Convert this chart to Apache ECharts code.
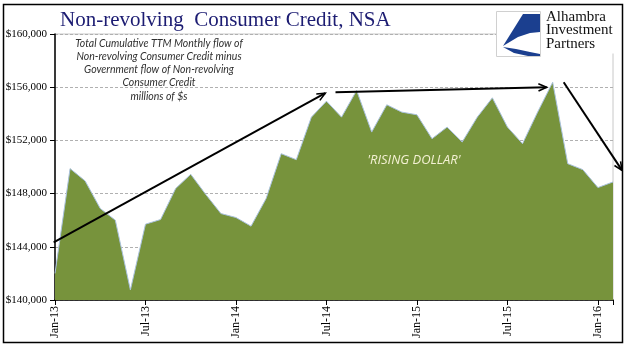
<!DOCTYPE html>
<html><head><meta charset="utf-8">
<script src="https://cdn.jsdelivr.net/npm/echarts@6/dist/echarts.min.js"></script>
<style>html,body{margin:0;padding:0;background:#fff}#c{width:641px;height:358px}</style>
</head><body><div id="c"></div>
<script>
// ---- data ----
var months = ['Jan-13','Feb-13','Mar-13','Apr-13','May-13','Jun-13','Jul-13','Aug-13','Sep-13','Oct-13','Nov-13','Dec-13',
  'Jan-14','Feb-14','Mar-14','Apr-14','May-14','Jun-14','Jul-14','Aug-14','Sep-14','Oct-14','Nov-14','Dec-14',
  'Jan-15','Feb-15','Mar-15','Apr-15','May-15','Jun-15','Jul-15','Aug-15','Sep-15','Oct-15','Nov-15','Dec-15',
  'Jan-16','Feb-16'];
var flowValues = [142000,149880,148950,146880,146000,140750,145700,146050,148380,149450,147930,146500,
  146200,145550,147630,151000,150550,153750,154950,153750,155750,152625,154675,154125,
  153925,152125,153000,151875,153750,155200,153000,151750,154125,156375,150250,149800,
  148450,148875];
var yTicks = [140000,144000,148000,152000,156000,160000];
var xTickLabels = ['Jan-13','Jul-13','Jan-14','Jul-14','Jan-15','Jul-15','Jan-16'];
// annotation arrows in data coordinates [monthIndex, value]
var arrowFrom = [[-0.09,144330],[18.6,155625],[33.73,156375]];
var arrowTo   = [[17.92,155550],[32.6,156000],[37.6,149750]];
var noteLines = ['Total Cumulative TTM Monthly flow of','Non-revolving Consumer Credit minus','Government flow of Non-revolving','Consumer Credit','millions of $s'];
var risingLabel = "'RISING DOLLAR'";
var risingPos = [23.8,150500];

// ---- chart ----
var chart = echarts.init(document.getElementById('c'), null, {renderer:'canvas'});
var seriesData = flowValues.map(function(v,i){return [i,v];});
var serif = '"Liberation Serif","Times New Roman",serif';
var option = {
  animation:false,
  backgroundColor:'#fff',
  grid:{left:55,right:28,top:34,bottom:58,show:true,borderColor:'#c8c8c8',borderWidth:1,backgroundColor:'transparent'},
  xAxis:{type:'value',min:0,max:months.length-1,interval:6,
    axisLine:{show:true,lineStyle:{color:'#000',width:1.5}},
    axisTick:{show:true,length:5,lineStyle:{color:'#000'}},
    splitLine:{show:false},
    axisLabel:{rotate:90,margin:6,fontFamily:serif,fontSize:12,color:'#000',
      formatter:function(v){var l=months[Math.round(v)];return xTickLabels.indexOf(l)>=0?l:'';}}
  },
  yAxis:{type:'value',min:yTicks[0],max:yTicks[yTicks.length-1],interval:4000,
    axisLine:{show:true,lineStyle:{color:'#000',width:1.5}},
    axisTick:{show:true,length:5,lineStyle:{color:'#000'}},
    splitLine:{show:true,lineStyle:{color:'#b0b0b0',type:[3,2],width:1}},
    axisLabel:{margin:8,fontFamily:serif,fontSize:11,color:'#000',
      formatter:function(v){return '$'+v.toLocaleString('en-US');}}
  },
  series:[{type:'line',data:seriesData,showSymbol:false,symbol:'none',
    lineStyle:{color:'#a9c1dc',width:1},
    areaStyle:{color:'#77933C',opacity:1,origin:'start'},z:2}]
};
chart.setOption(option);

// ---- decorations ----
var g = [];
// outer frame
g.push({type:'rect',shape:{x:3.5,y:4.5,width:619,height:338},style:{fill:null,stroke:'#000',lineWidth:1.5},z:100});
// title
g.push({type:'text',left:60,top:10,style:{text:'Non-revolving  Consumer Credit, NSA',font:'21px '+serif,fill:'#1c1c72'},z:100});
// note text
noteLines.forEach(function(t,i){
  g.push({type:'text',x:159,y:43.5+i*13.2,style:{text:t,font:'italic 10.5px Lato, "Liberation Sans", sans-serif',fill:'#303030',textAlign:'center',textVerticalAlign:'middle'},z:100});
});
// logo area (white)
g.push({type:'rect',shape:{x:497,y:5.5,width:124,height:48},style:{fill:'#fff'},z:50});
g.push({type:'rect',shape:{x:496.5,y:11.5,width:44,height:45},style:{fill:'#fff',stroke:'#d0d0d0',lineWidth:1},z:60});
g.push({type:'polygon',shape:{points:[[503,46],[513,30],[523,14],[540,14],[540,32],[530,33],[518,37]]},style:{fill:'#1b3f8f'},z:61});
g.push({type:'polygon',shape:{points:[[503,47],[516,49],[530,52],[540,54],[540,56],[528,56],[514,53]]},style:{fill:'#1b3f8f'},z:61});
['Alhambra','Investment','Partners'].forEach(function(t,i){
  g.push({type:'text',x:546,y:17+i*13.5,style:{text:t,font:'15px '+serif,fill:'#111',textVerticalAlign:'middle'},z:61});
});
// arrows
for (var i=0;i<arrowFrom.length;i++){
  var p0 = chart.convertToPixel({xAxisIndex:0,yAxisIndex:0},arrowFrom[i]);
  var p1 = chart.convertToPixel({xAxisIndex:0,yAxisIndex:0},arrowTo[i]);
  g.push({type:'line',shape:{x1:p0[0],y1:p0[1],x2:p1[0],y2:p1[1]},style:{stroke:'#000',lineWidth:2},z:90});
  var a = Math.atan2(p1[1]-p0[1],p1[0]-p0[0]), L=9, s=0.42;
  g.push({type:'polyline',shape:{points:[[p1[0]-L*Math.cos(a-s),p1[1]-L*Math.sin(a-s)],[p1[0],p1[1]],[p1[0]-L*Math.cos(a+s),p1[1]-L*Math.sin(a+s)]]},style:{stroke:'#000',lineWidth:1.6,fill:null},z:90});
}
var rp = chart.convertToPixel({xAxisIndex:0,yAxisIndex:0},risingPos);
g.push({type:'text',x:rp[0],y:rp[1],style:{text:risingLabel,font:'italic 13px "Open Sans", "Liberation Sans", sans-serif',fill:'#f4f1d4',textAlign:'center',textVerticalAlign:'middle'},z:90});
chart.setOption({graphic:g});
</script></body></html>
